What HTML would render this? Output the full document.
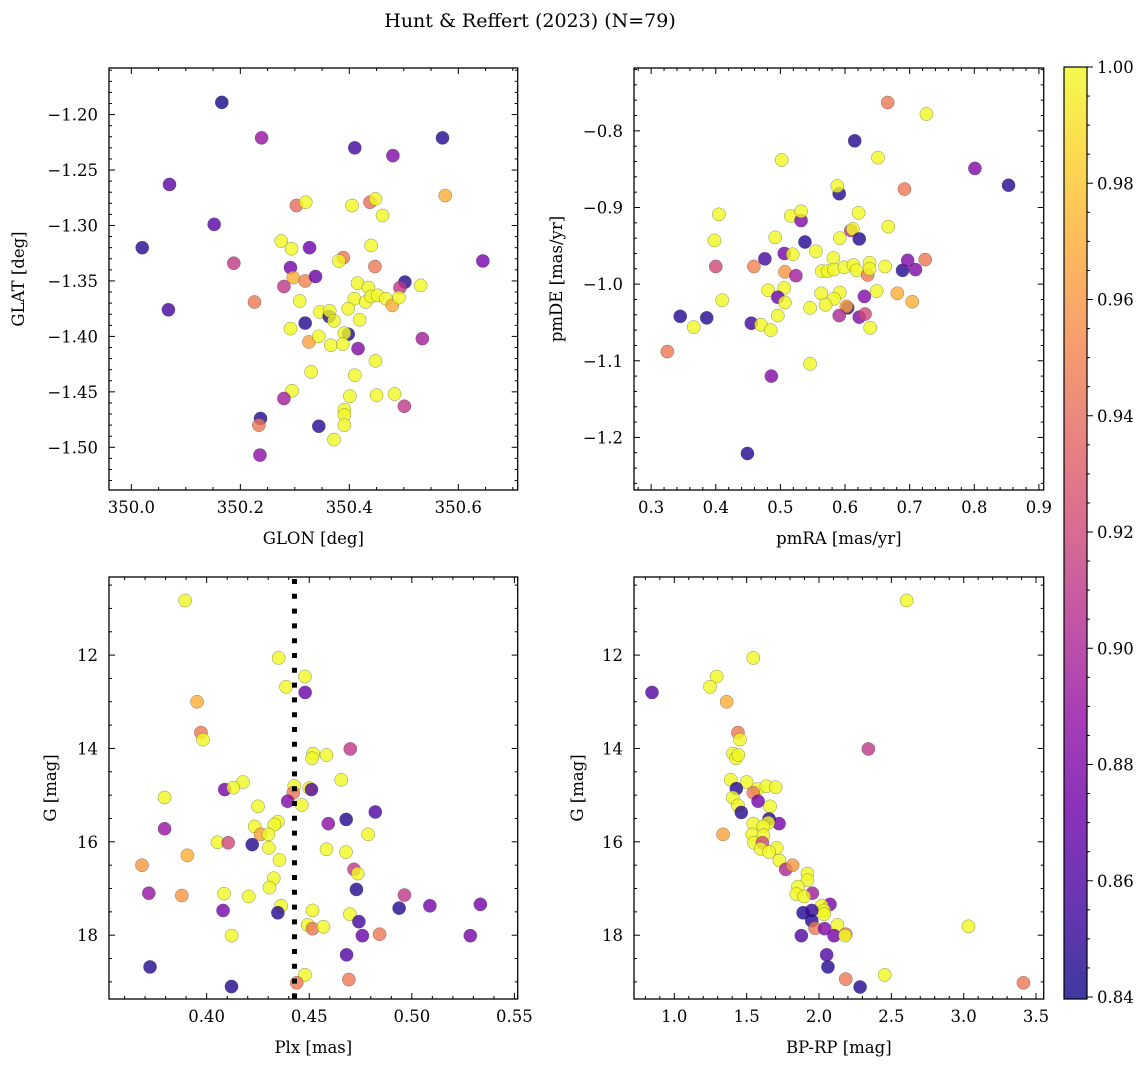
<!DOCTYPE html>
<html><head><meta charset="utf-8"><style>
html,body{margin:0;padding:0;background:#fff}
svg text{font-family:"DejaVu Serif","Liberation Serif",serif;fill:#000}
</style></head><body>
<svg id="fig" xmlns="http://www.w3.org/2000/svg" width="1148" height="1067" viewBox="0 0 1148 1067">
<defs>
<linearGradient id="plasmaGrad" x1="0" y1="1" x2="0" y2="0">
<stop offset="0" stop-color="#0d0887"/><stop offset="0.1" stop-color="#41049d"/><stop offset="0.2" stop-color="#6a00a8"/><stop offset="0.3" stop-color="#8f0da4"/><stop offset="0.4" stop-color="#b12a90"/><stop offset="0.5" stop-color="#cc4778"/><stop offset="0.6" stop-color="#e16462"/><stop offset="0.7" stop-color="#f2844b"/><stop offset="0.8" stop-color="#fca636"/><stop offset="0.9" stop-color="#fcce25"/><stop offset="1" stop-color="#f0f921"/>
</linearGradient>
</defs>
<text x="530" y="27" font-size="19" text-anchor="middle">Hunt &amp; Reffert (2023) (N=79)</text>
</svg>
<script>
// ---- data: top-left (GLON vs GLAT)
const tlGlon=[350.166,350.239,350.410,350.480,350.571,350.070,350.576,350.152,350.020,350.303,350.320,350.405,350.438,350.448,350.461,350.275,350.294,350.327,350.440,350.389,350.381,350.188,350.292,350.447,350.645,350.297,350.319,350.338,350.280,350.502,350.493,350.531,350.415,350.435,350.226,350.309,350.409,350.430,350.440,350.452,350.467,350.479,350.491,350.068,350.346,350.363,350.364,350.372,350.398,350.419,350.319,350.292,350.398,350.391,350.326,350.344,350.366,350.388,350.416,350.534,350.448,350.330,350.410,350.295,350.280,350.401,350.450,350.483,350.501,350.391,350.391,350.391,350.237,350.234,350.344,350.372,350.236];
const tlGlat=[-1.189,-1.221,-1.230,-1.237,-1.221,-1.263,-1.273,-1.299,-1.320,-1.282,-1.279,-1.282,-1.279,-1.276,-1.291,-1.314,-1.321,-1.320,-1.318,-1.329,-1.332,-1.334,-1.338,-1.337,-1.332,-1.347,-1.350,-1.346,-1.355,-1.351,-1.356,-1.354,-1.352,-1.356,-1.369,-1.368,-1.366,-1.369,-1.364,-1.363,-1.366,-1.372,-1.365,-1.376,-1.378,-1.382,-1.377,-1.386,-1.375,-1.385,-1.388,-1.393,-1.398,-1.397,-1.405,-1.400,-1.408,-1.407,-1.411,-1.402,-1.422,-1.432,-1.435,-1.449,-1.456,-1.454,-1.453,-1.452,-1.463,-1.466,-1.471,-1.480,-1.474,-1.480,-1.481,-1.493,-1.507];
const tlProb=[0.84,0.89,0.855,0.88,0.845,0.865,0.97,0.865,0.845,0.94,1,1,0.94,1,1,1,1,0.87,1,0.945,1,0.91,0.875,0.945,0.875,0.97,0.95,0.87,0.91,0.845,0.91,1,1,1,0.945,1,1,1,1,1,1,0.97,1,0.855,1,0.845,1,1,1,1,0.845,1,0.845,1,0.965,1,1,1,0.88,0.895,1,1,1,1,0.895,1,1,1,0.91,1,1,1,0.845,0.945,0.845,1,0.885];
// ---- data: top-right (pmRA vs pmDE)
const trPmra=[0.666,0.726,0.615,0.502,0.651,0.801,0.853,0.692,0.591,0.588,0.405,0.516,0.532,0.532,0.621,0.667,0.609,0.612,0.622,0.592,0.492,0.538,0.398,0.555,0.506,0.519,0.476,0.582,0.400,0.459,0.507,0.524,0.564,0.573,0.583,0.599,0.613,0.618,0.638,0.635,0.638,0.662,0.689,0.697,0.709,0.724,0.481,0.506,0.496,0.507,0.410,0.563,0.592,0.583,0.570,0.604,0.602,0.630,0.649,0.681,0.704,0.546,0.496,0.345,0.386,0.366,0.455,0.470,0.485,0.591,0.622,0.631,0.639,0.325,0.546,0.486,0.449];
const trPmde=[-0.763,-0.778,-0.813,-0.838,-0.835,-0.849,-0.871,-0.876,-0.882,-0.872,-0.909,-0.911,-0.917,-0.905,-0.907,-0.925,-0.930,-0.928,-0.941,-0.940,-0.939,-0.945,-0.943,-0.957,-0.960,-0.961,-0.967,-0.966,-0.977,-0.977,-0.984,-0.989,-0.983,-0.983,-0.981,-0.978,-0.975,-0.982,-0.972,-0.988,-0.980,-0.977,-0.982,-0.969,-0.981,-0.968,-1.008,-1.005,-1.017,-1.024,-1.021,-1.012,-1.011,-1.019,-1.027,-1.031,-1.029,-1.016,-1.009,-1.012,-1.023,-1.031,-1.041,-1.042,-1.044,-1.056,-1.051,-1.053,-1.060,-1.041,-1.043,-1.039,-1.057,-1.088,-1.104,-1.120,-1.221];
const trProb=[0.945,1,0.845,1,1,0.88,0.845,0.945,0.845,1,1,1,0.88,1,1,1,0.91,1,0.845,1,1,0.845,1,1,0.875,1,0.855,1,0.92,0.95,0.96,0.895,1,1,1,1,1,1,1,0.945,1,1,0.845,0.88,0.88,0.945,1,1,0.87,1,1,1,1,1,1,0.845,0.965,0.88,1,0.97,0.97,1,1,0.845,0.845,1,0.855,1,1,0.9,0.88,0.92,1,0.945,1,0.88,0.845];
// ---- data: bottom-left (Plx vs G)
const blPlx=[0.3895,0.4351,0.4479,0.4387,0.4480,0.3953,0.3972,0.3982,0.4700,0.4519,0.4514,0.4584,0.4656,0.4177,0.4088,0.4130,0.3795,0.4427,0.4422,0.4500,0.4511,0.4395,0.4464,0.4250,0.4822,0.4680,0.4593,0.4347,0.4330,0.4234,0.3795,0.4263,0.4301,0.4787,0.4053,0.4105,0.4222,0.4303,0.4584,0.4679,0.4355,0.3906,0.3685,0.4718,0.4737,0.4327,0.4306,0.4730,0.3718,0.3879,0.4085,0.4205,0.4964,0.4938,0.5088,0.5334,0.4363,0.4347,0.4080,0.4516,0.4698,0.4742,0.4492,0.4516,0.4569,0.4759,0.4843,0.5285,0.4122,0.4682,0.3724,0.4479,0.4439,0.4693,0.4121];
const blG=[10.83,12.06,12.46,12.68,12.80,13.00,13.66,13.81,14.01,14.11,14.21,14.14,14.67,14.72,14.88,14.84,15.05,14.80,14.95,14.85,14.88,15.13,15.21,15.24,15.36,15.52,15.61,15.57,15.63,15.67,15.72,15.84,15.84,15.84,16.01,16.02,16.06,16.13,16.16,16.22,16.39,16.29,16.50,16.59,16.68,16.78,16.98,17.02,17.10,17.15,17.11,17.17,17.14,17.42,17.37,17.34,17.37,17.52,17.47,17.47,17.55,17.71,17.78,17.86,17.82,18.01,17.98,18.01,18.01,18.42,18.68,18.85,19.02,18.95,19.10];
const blProb=[1,1,1,1,0.87,0.97,0.945,1,0.91,1,1,1,1,1,0.875,1,1,1,0.945,1,0.86,0.88,1,1,0.86,0.845,0.885,1,1,1,0.89,0.965,1,1,1,0.92,0.845,1,1,1,1,0.97,0.96,0.91,1,1,1,0.845,0.89,0.96,1,1,0.91,0.845,0.875,0.875,1,0.845,0.875,1,1,0.855,1,0.945,1,0.87,0.945,0.875,1,0.86,0.845,1,0.945,0.945,0.845];
// ---- data: bottom-right (BP-RP vs G)
const brBprp=[2.606,1.546,1.293,1.247,0.846,1.362,1.440,1.454,2.341,1.406,1.427,1.443,1.390,1.500,1.429,1.574,1.636,1.701,1.546,1.404,1.579,1.662,1.440,1.463,1.724,1.655,1.650,1.546,1.615,1.539,1.615,1.337,1.551,1.609,1.597,1.708,1.655,1.726,1.770,1.818,1.920,1.920,1.954,1.855,1.844,1.897,2.076,2.019,2.035,2.035,1.890,1.950,1.950,1.973,2.039,2.127,2.104,2.185,2.180,1.878,3.033,2.053,2.062,2.454,2.185,2.284,3.413];
const brG=[10.83,12.06,12.46,12.68,12.80,13.00,13.66,13.81,14.01,14.11,14.21,14.14,14.67,14.72,14.86,14.87,14.81,14.83,14.95,15.05,15.13,15.24,15.22,15.37,15.61,15.51,15.59,15.61,15.67,15.84,15.86,15.84,16.02,16.02,16.15,16.13,16.22,16.40,16.59,16.50,16.68,16.82,17.10,16.96,17.12,17.17,17.34,17.37,17.47,17.55,17.52,17.47,17.69,17.85,17.86,17.78,18.01,17.98,18.01,18.01,17.81,18.42,18.68,18.85,18.94,19.11,19.02];
const brProb=[1,1,1,1,0.86,0.97,0.945,1,0.91,1,1,1,1,1,0.845,1,1,1,0.945,1,0.875,1,1,0.845,0.875,0.845,1,1,1,1,1,0.965,1,0.92,1,1,1,1,0.9,0.96,1,1,0.895,1,1,1,0.875,1,1,1,0.845,0.85,0.845,0.945,0.88,1,0.875,0.945,1,0.86,1,0.86,0.845,1,0.945,0.845,0.945];
const plxLine=0.4428;
const cbTicks=[1.00,0.98,0.96,0.94,0.92,0.90,0.88,0.86,0.84];

const NS='http://www.w3.org/2000/svg';
const svg=document.getElementById('fig');
function mk(tag,attrs,parent){const e=document.createElementNS(NS,tag);for(const k in attrs)e.setAttribute(k,attrs[k]);(parent||svg).appendChild(e);return e;}
const stops=[[13,8,135],[65,4,157],[106,0,168],[143,13,164],[177,42,144],[204,71,120],[225,100,98],[242,132,75],[252,166,54],[252,206,37],[240,249,33]];
const vmin=0.8385,vmax=1.0;
function plasma(p){let t=Math.max(0,Math.min(1,(p-vmin)/(vmax-vmin)))*10;const i=Math.min(9,Math.floor(t)),f=t-i;const a=stops[i],b=stops[i+1];return 'rgb('+[0,1,2].map(k=>Math.round(a[k]+(b[k]-a[k])*f)).join(',')+')';}
function fmt(v,d){const s=Math.abs(v).toFixed(d);return (v<-1e-9?'\u2212':'')+s;}

function panel(o){
  const g=mk('g',{});
  
  
  const sx=v=>o.x0+(v-o.xd[0])/(o.xd[1]-o.xd[0])*(o.x1-o.x0);
  const sy=v=>o.y1-(v-o.yd[0])/(o.yd[1]-o.yd[0])*(o.y1-o.y0);
  if(o.vline!==undefined){
    const l=mk('line',{x1:sx(o.vline),x2:sx(o.vline),y1:o.y0+2,y2:o.y1,stroke:'#000','stroke-width':5,'stroke-dasharray':'5 9.8'},g);
    
    
  }
  const pg=mk('g',{},g);
  
  
  for(let i=0;i<o.xs.length;i++){
    const c=mk('circle',{cx:sx(o.xs[i]),cy:sy(o.ys[i]),r:6.6,fill:plasma(o.ps[i]),'fill-opacity':0.8,stroke:'#444','stroke-opacity':0.6,'stroke-width':0.5},pg);
    
    
  }
  if(o.vline!==undefined) g.appendChild(g.firstChild);
  const fr=mk('rect',{x:o.x0,y:o.y0,width:o.x1-o.x0,height:o.y1-o.y0,fill:'none',stroke:'#000','stroke-width':1.3},g);
  
  
  const tg=mk('g',{stroke:'#000','stroke-width':1},g);
  const eps=1e-9;
  const xlo=Math.min(...o.xd),xhi=Math.max(...o.xd),ylo=Math.min(...o.yd),yhi=Math.max(...o.yd);
  for(let k=Math.ceil(xlo/o.xmin-eps); k*o.xmin<=xhi+eps; k++){
    const v=k*o.xmin;
    const isMaj=Math.abs(v/o.xmaj-Math.round(v/o.xmaj))<1e-4;const L=isMaj?6:3;const x=sx(v);
    mk('line',{x1:x,x2:x,y1:o.y1,y2:o.y1-L},tg);mk('line',{x1:x,x2:x,y1:o.y0,y2:o.y0+L},tg);
    if(isMaj){const t=mk('text',{x:x,y:o.y1+23,'font-size':16.5,'text-anchor':'middle'},g);t.textContent=fmt(v,o.xdec);
      
      }
  }
  for(let k=Math.ceil(ylo/o.ymin-eps); k*o.ymin<=yhi+eps; k++){
    const v=k*o.ymin;
    const isMaj=Math.abs(v/o.ymaj-Math.round(v/o.ymaj))<1e-4;const L=isMaj?6:3;const y=sy(v);
    mk('line',{x1:o.x0,x2:o.x0+L,y1:y,y2:y},tg);mk('line',{x1:o.x1,x2:o.x1-L,y1:y,y2:y},tg);
    if(isMaj){const t=mk('text',{x:o.x0-11,y:y+6,'font-size':16.5,'text-anchor':'end'},g);t.textContent=fmt(v,o.ydec);
      
      }
  }
  const xt=mk('text',{x:(o.x0+o.x1)/2,y:o.y1+54,'font-size':16.5,'text-anchor':'middle'},g);xt.textContent=o.xlab;
  
  
  const yt=mk('text',{x:0,y:0,'font-size':16.5,'text-anchor':'middle',transform:'translate('+o.ytx+','+((o.y0+o.y1)/2)+') rotate(-90)'},g);yt.textContent=o.ylab;
  
  
}
panel({name:'glon-glat-panel',x0:109,x1:517.7,y0:68,y1:490,xd:[349.959,350.709],yd:[-1.5385,-1.158],xs:tlGlon,ys:tlGlat,ps:tlProb,xmaj:0.2,xmin:0.05,ymaj:0.05,ymin:0.01,xdec:1,ydec:2,xlab:'GLON [deg]',ylab:'GLAT [deg]',ytx:24});
panel({name:'pm-panel',x0:634,x1:1043.7,y0:68,y1:490,xd:[0.2735,0.9074],yd:[-1.2686,-0.718],xs:trPmra,ys:trPmde,ps:trProb,xmaj:0.1,xmin:0.02,ymaj:0.1,ymin:0.02,xdec:1,ydec:1,xlab:'pmRA [mas/yr]',ylab:'pmDE [mas/yr]',ytx:562});
panel({name:'plx-g-panel',x0:109,x1:517.7,y0:577,y1:999,xd:[0.3524,0.5516],yd:[19.367,10.327],xs:blPlx,ys:blG,ps:blProb,xmaj:0.05,xmin:0.01,ymaj:2,ymin:0.5,xdec:2,ydec:0,xlab:'Plx [mas]',ylab:'G [mag]',ytx:56,vline:plxLine});
panel({name:'cmd-panel',x0:634,x1:1043.7,y0:577,y1:999,xd:[0.7215,3.553],yd:[19.367,10.327],xs:brBprp,ys:brG,ps:brProb,xmaj:0.5,xmin:0.1,ymaj:2,ymin:0.5,xdec:1,ydec:0,xlab:'BP-RP [mag]',ylab:'G [mag]',ytx:583});

const cb=mk('g',{});


const cbY=v=>67+(1.0-v)/0.16*930;
mk('rect',{x:1064,y:67,width:23,height:932,fill:'url(#plasmaGrad)','fill-opacity':0.8},cb);
mk('rect',{x:1064,y:67,width:23,height:932,fill:'none',stroke:'#000','stroke-width':1.2},cb);
for(let k=0;k<=32;k++){const v=1.0-k*0.005;const y=cbY(v);const maj=k%4===0;mk('line',{x1:1087,x2:1087+(maj?6:3),y1:y,y2:y,stroke:'#000','stroke-width':1},cb);}
cbTicks.forEach(v=>{const t=mk('text',{x:1097,y:cbY(v)+6,'font-size':16.5},cb);t.textContent=v.toFixed(2);
  
  });
</script>
</body></html>
